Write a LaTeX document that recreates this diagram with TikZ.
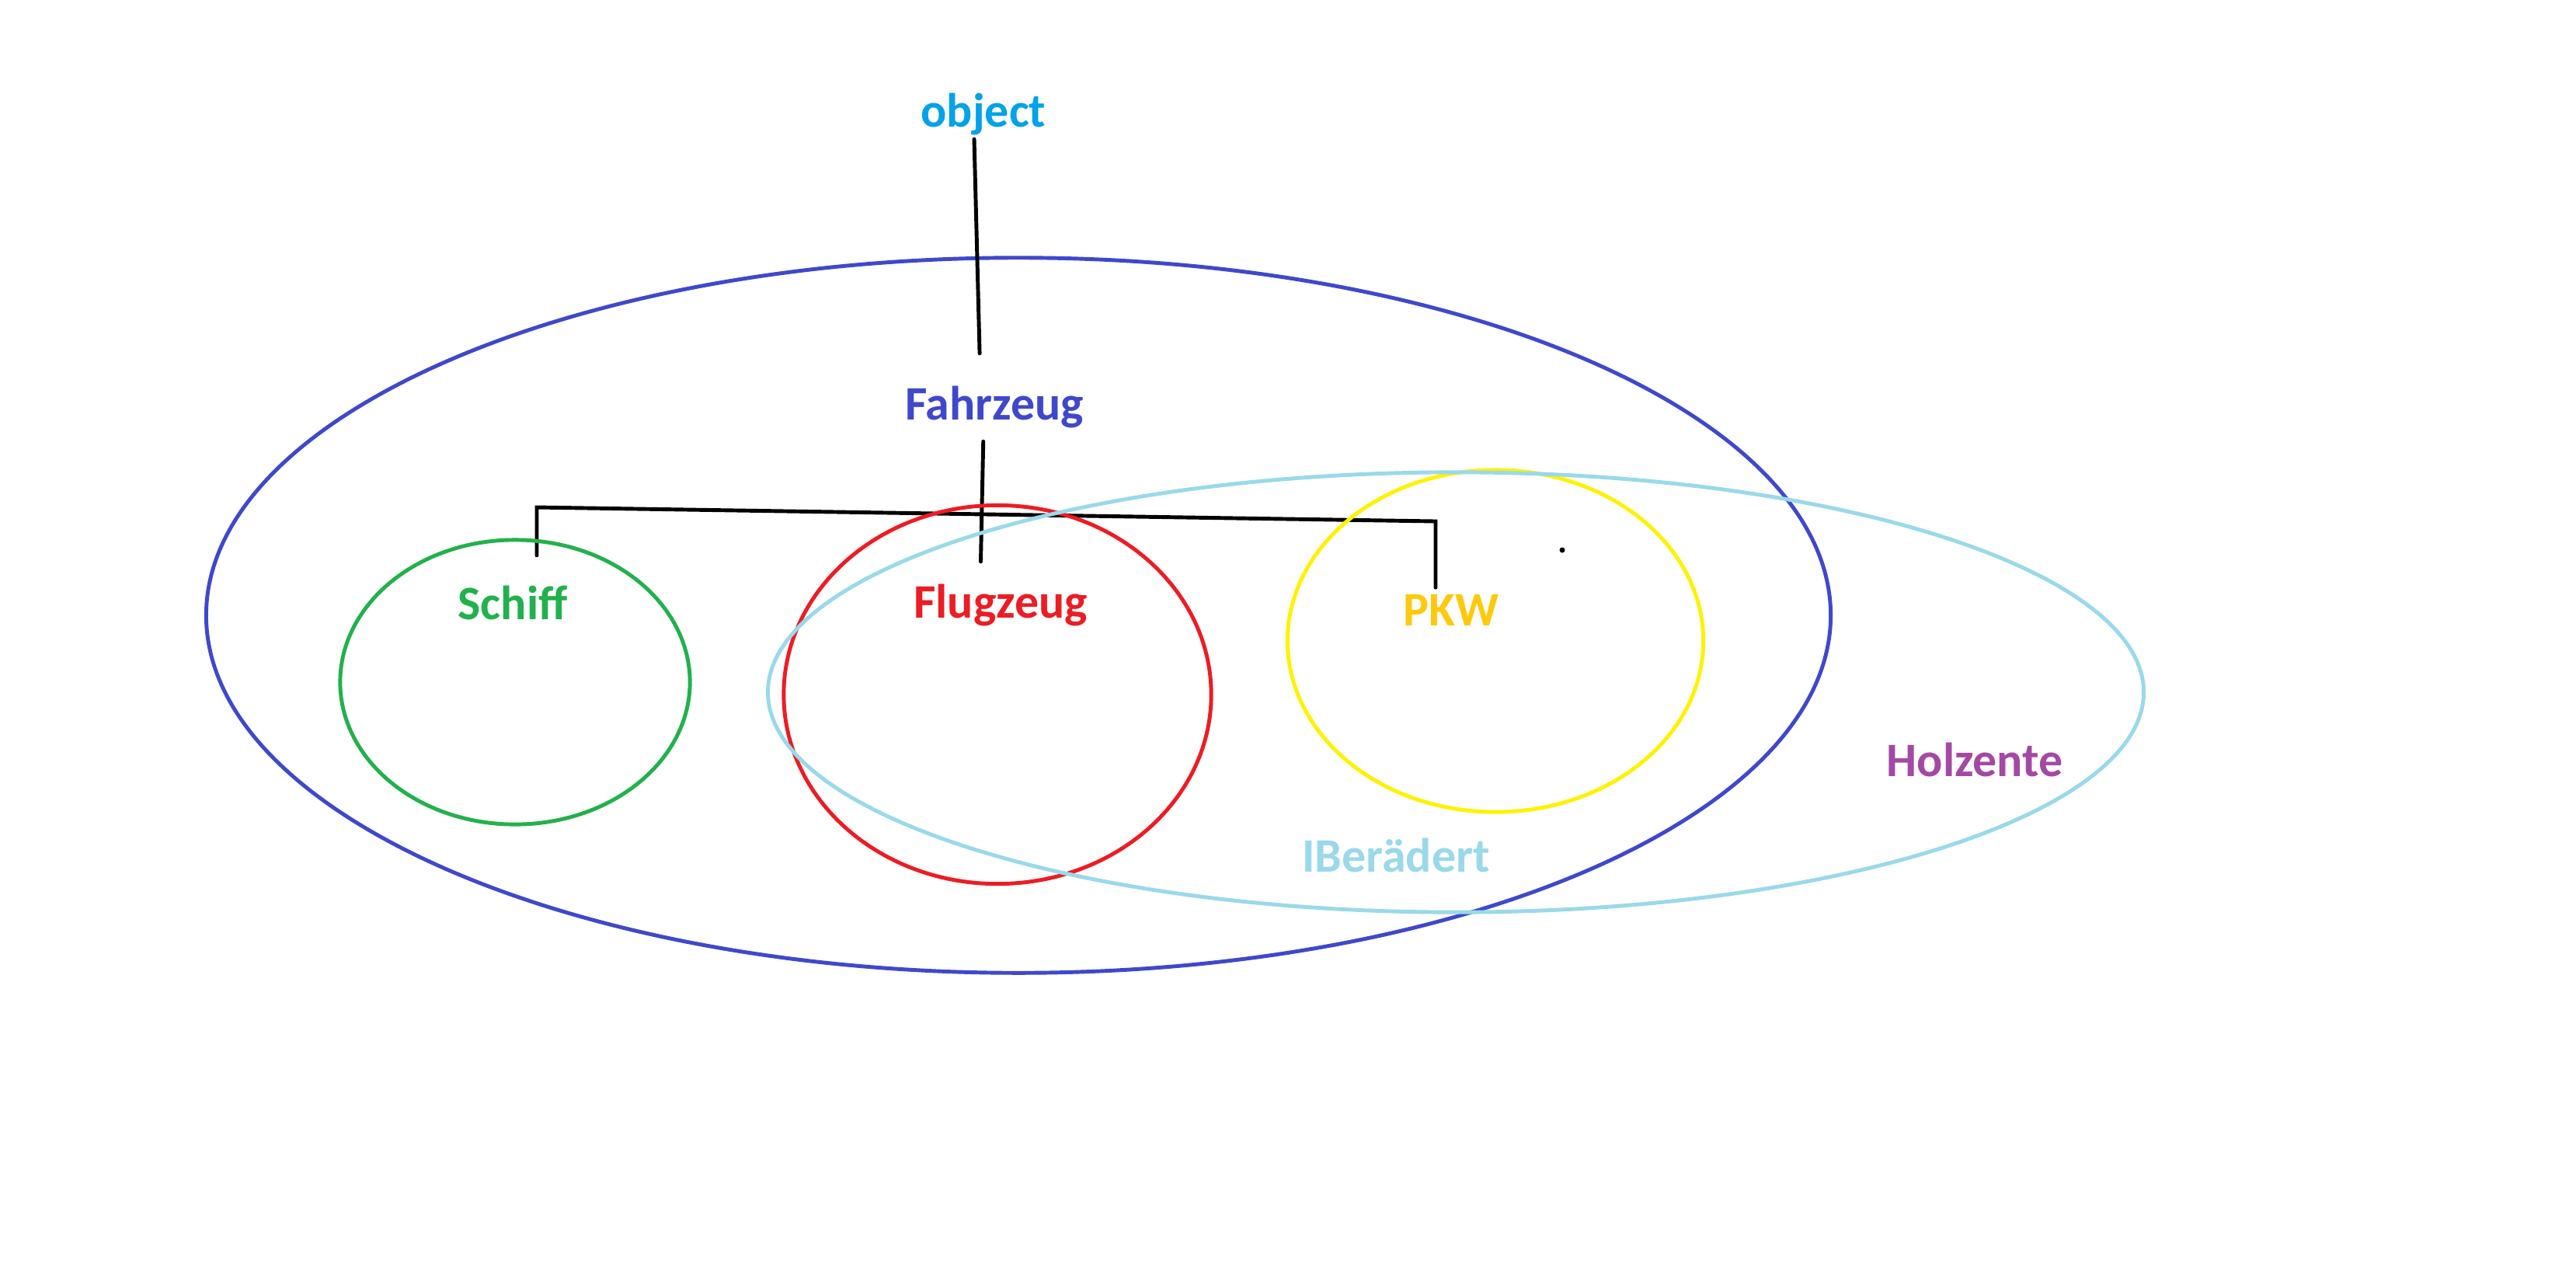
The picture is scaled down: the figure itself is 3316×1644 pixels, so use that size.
\documentclass[tikz,border=0pt]{standalone}
\usepackage{fontspec}
\setmainfont{Carlito}
\usepackage{xcolor}
\definecolor{paintcyan}{HTML}{00A2E8}
\definecolor{indigo}{HTML}{3F48CC}
\definecolor{paintgreen}{HTML}{22B14C}
\definecolor{paintred}{HTML}{ED1C24}
\definecolor{paintyellow}{HTML}{FFF200}
\definecolor{paintgold}{HTML}{FFC90E}
\definecolor{lightturq}{HTML}{99D9EA}
\definecolor{paintpurple}{HTML}{A349A4}

\begin{document}
\begin{tikzpicture}[x=0.01cm,y=-0.01cm,
        lbl/.style={anchor=base,inner sep=0.05cm,font=\fontsize{17.6}{21}\selectfont\bfseries},
        conn/.style={line width=1.4pt,black,line cap=round},
        ring/.style={line width=1.4pt}]
                \useasboundingbox[fill=white](0,0) rectangle (3316,1644);
                \draw[ring,indigo](1311,792) ellipse[x radius=10.45cm,y radius=4.6cm];
                \node[lbl,paintcyan] at (1266,163)(obj){object};
                \node[lbl,indigo] at (1280,540)(fz){Fahrzeug};
                \node[lbl,paintgreen] at (660,797)(sch){Schiff};
                \node[lbl,paintred] at (1288,795)(flz){Flugzeug};
                \node[lbl,paintgold] at (1868,805)(pkw){PKW};
                \node[lbl,lightturq] at (1797,1122)(ib){IBerädert};
                \node[lbl,paintpurple] at (2542,999)(hz){Holzente};
                \draw[conn,shorten >=0.36cm]([xshift=-0.12cm]obj.south)--([xshift=-0.18cm]fz.north);
                \draw[conn,shorten <=0.12cm,shorten >=0.23cm]([xshift=-0.14cm]fz.south)--([xshift=-0.26cm]flz.north);
                \coordinate (L) at (691,653);
                \coordinate (R) at (1848,671);
                \draw[conn,shorten <=0.33cm,shorten >=0.03cm](L |- sch.north)--(L)--(R)--(R |- pkw.north);
                \fill (2011,708) circle[radius=0.035cm];
                \draw[ring,paintgreen](663,878) ellipse[x radius=2.25cm,y radius=1.83cm];
                \draw[ring,paintred](1284,894) ellipse[x radius=2.75cm,y radius=2.435cm];
                \draw[ring,paintyellow](1925,825) ellipse[x radius=2.675cm,y radius=2.2cm];
                \draw[ring,lightturq](1874,891) ellipse[x radius=8.85cm,y radius=2.83cm];
\end{tikzpicture}
\end{document}
